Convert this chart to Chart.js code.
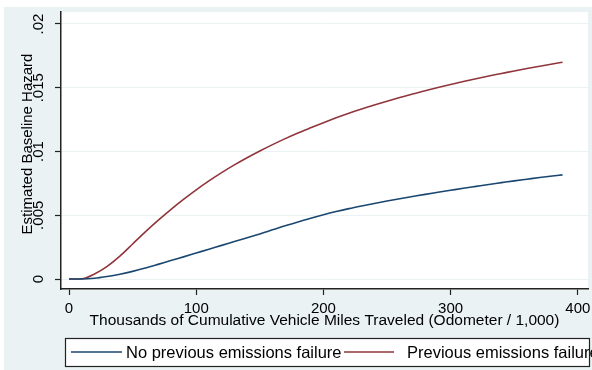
<!DOCTYPE html>
<html>
<head>
<meta charset="utf-8">
<script src="https://cdn.jsdelivr.net/npm/chart.js@4/dist/chart.umd.min.js"></script>
<style>
  html, body { margin: 0; padding: 0; background: #fff; }
  #wrap { width: 592px; height: 370px; position: relative; }
</style>
</head>
<body>
<div id="wrap"><canvas id="hazardChart"></canvas></div>
<script>
// thousands of miles on the odometer
const odometer = [0, 10, 20, 30, 40, 50, 60, 70, 80, 90, 100, 110, 120, 130, 140, 150, 160, 170, 180, 190,
  200, 210, 220, 230, 240, 250, 260, 270, 280, 290, 300, 310, 320, 330, 340, 350, 360, 370, 380, 388];
const noPrevFailure = [0, 0, 0.00006, 0.0002, 0.00038, 0.0006, 0.00086, 0.00115, 0.00145, 0.00174, 0.00204,
  0.00234, 0.00264, 0.00294, 0.00324, 0.00354, 0.00386, 0.00418, 0.00448, 0.00477, 0.00504, 0.00529,
  0.00552, 0.00573, 0.00593, 0.00612, 0.0063, 0.00647, 0.00664, 0.0068, 0.00696, 0.00712, 0.00727,
  0.00742, 0.00756, 0.0077, 0.00783, 0.00796, 0.00808, 0.00817];
const prevFailure = [0, 0.00002, 0.0004, 0.001, 0.0018, 0.00275, 0.0037, 0.0046, 0.00545, 0.00625, 0.007,
  0.0077, 0.00835, 0.00895, 0.00951, 0.01004, 0.01054, 0.01101, 0.01145, 0.01186, 0.01226, 0.01264,
  0.013, 0.01333, 0.01364, 0.01394, 0.01423, 0.01451, 0.01477, 0.01502, 0.01526, 0.01549, 0.01571,
  0.01592, 0.01612, 0.01632, 0.01651, 0.01669, 0.01686, 0.017];
const seriesLabels = ['No previous emissions failure', 'Previous emissions failure'];
const xTicks = [0, 100, 200, 300, 400];
const yTicks = [0, 0.005, 0.01, 0.015, 0.02];
const yTickLabels = ['0', '.005', '.01', '.015', '.02'];
const xTitle = 'Thousands of Cumulative Vehicle Miles Traveled (Odometer / 1,000)';
const yTitle = 'Estimated Baseline Hazard';

const bg = '#eaf2f3';
const font = '"Liberation Sans", Arial, sans-serif';

const stataLook = {
  id: 'stataLook',
  beforeDraw(chart) {
    const { ctx, chartArea: a } = chart;
    ctx.save();
    ctx.fillStyle = '#fff';
    ctx.fillRect(0, 0, chart.width, chart.height);
    ctx.fillStyle = bg;
    ctx.fillRect(4, 7, chart.width - 4, chart.height - 7);
    ctx.fillStyle = '#fff';
    ctx.fillRect(a.left, a.top, a.right - a.left, a.bottom - a.top);
    ctx.restore();
  },
  afterDraw(chart) {
    const { ctx, chartArea: a } = chart;
    const xs = chart.scales.x, ys = chart.scales.y;
    ctx.save();
    ctx.fillStyle = '#000';

    // x tick labels
    ctx.font = '15px ' + font;
    ctx.textAlign = 'center';
    ctx.textBaseline = 'alphabetic';
    xTicks.forEach(v => ctx.fillText(String(v), xs.getPixelForValue(v), 313));

    // y tick labels, rotated
    yTicks.forEach((v, i) => {
      ctx.save();
      ctx.translate(43, ys.getPixelForValue(v));
      ctx.rotate(-Math.PI / 2);
      ctx.fillText(yTickLabels[i], 0, 0);
      ctx.restore();
    });

    // axis titles
    ctx.font = '15.5px ' + font;
    ctx.fillText(xTitle, (a.left + a.right) / 2, 325);
    ctx.save();
    ctx.translate(32, 144);
    ctx.rotate(-Math.PI / 2);
    ctx.font = '15px ' + font;
    ctx.fillText(yTitle, 0, 0);
    ctx.restore();

    // legend
    const top = 338, bottom = 366;
    ctx.fillStyle = '#fff';
    ctx.fillRect(65, top, 525, bottom - top);
    const ly = 352;
    const items = [[71, 122, 126], [344, 394, 407]];
    ctx.font = '16.5px ' + font;
    ctx.textAlign = 'left';
    ctx.textBaseline = 'middle';
    chart.data.datasets.forEach((ds, i) => {
      const [x0, x1, tx] = items[i];
      ctx.strokeStyle = ds.borderColor;
      ctx.lineWidth = 1.5;
      ctx.beginPath();
      ctx.moveTo(x0, ly);
      ctx.lineTo(x1, ly);
      ctx.stroke();
      ctx.fillStyle = '#000';
      ctx.fillText(ds.label, tx, ly + 1);
    });
    ctx.strokeStyle = '#222';
    ctx.lineWidth = 1.2;
    ctx.strokeRect(65.5, top + 0.5, 524, bottom - top);
    ctx.restore();
  }
};

const ctx = document.getElementById('hazardChart').getContext('2d');
const chart = new Chart(ctx, {
  type: 'line',
  data: {
    datasets: [{
      label: seriesLabels[0],
      data: odometer.map((x, i) => ({ x, y: noPrevFailure[i] })),
      borderColor: '#1a476f',
      borderWidth: 1.6,
      pointRadius: 0,
      cubicInterpolationMode: 'monotone',
    }, {
      label: seriesLabels[1],
      data: odometer.map((x, i) => ({ x, y: prevFailure[i] })),
      borderColor: '#90353b',
      borderWidth: 1.6,
      pointRadius: 0,
      cubicInterpolationMode: 'monotone',
    }],
  },
  options: {
    responsive: true,
    maintainAspectRatio: false,
    animation: false,
    layout: { padding: { top: 12, right: 4, left: 0, bottom: 0 } },
    plugins: { legend: { display: false }, tooltip: { enabled: false } },
    scales: {
      x: {
        type: 'linear',
        min: -6.3,
        max: 408,
        afterBuildTicks: s => { s.ticks = xTicks.map(v => ({ value: v })); },
        afterFit: s => { s.height = 81; },
        ticks: { display: false },
        grid: { drawOnChartArea: false, tickLength: 6, tickColor: '#222', tickWidth: 1.2 },
        border: { color: '#222', width: 1.5 },
      },
      y: {
        type: 'linear',
        min: -0.00078,
        max: 0.02094,
        afterBuildTicks: s => { s.ticks = yTicks.map(v => ({ value: v })); },
        afterFit: s => { s.width = 61; },
        ticks: { display: false },
        grid: { color: bg, lineWidth: 1, tickLength: 6, tickColor: '#222', tickWidth: 1.2 },
        border: { color: '#222', width: 1.5 },
      },
    },
  },
  plugins: [stataLook],
});
</script>
</body>
</html>
